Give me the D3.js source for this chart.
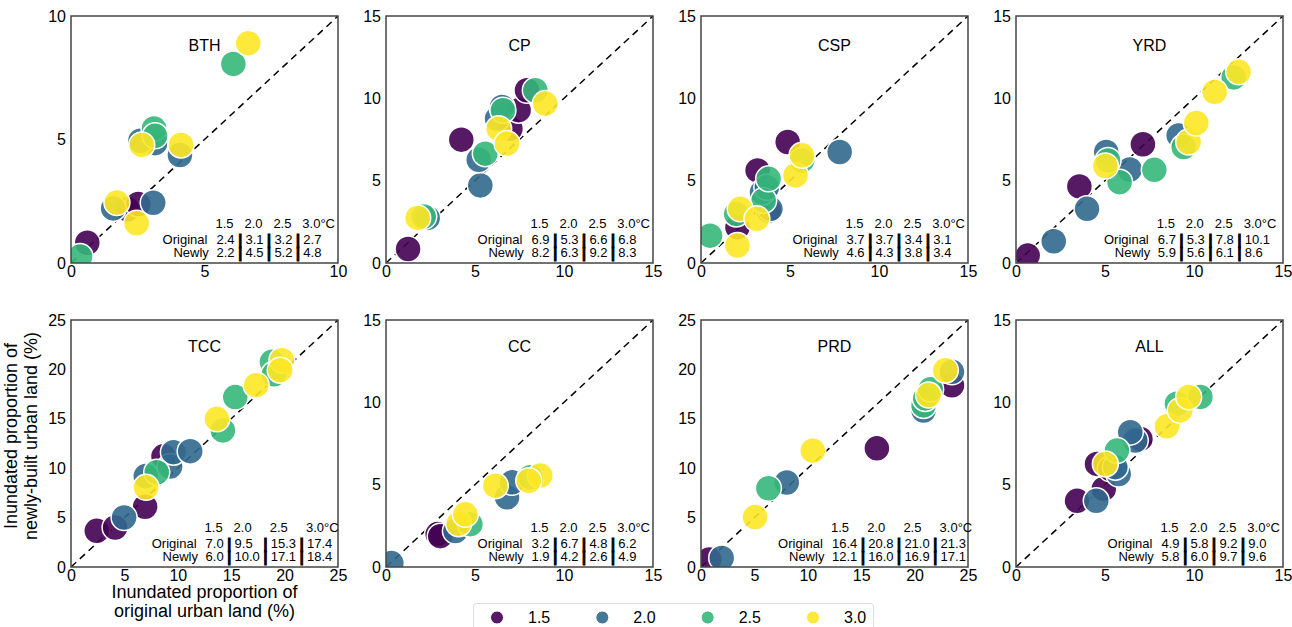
<!DOCTYPE html>
<html>
<head>
<meta charset="utf-8">
<script src="https://cdn.jsdelivr.net/npm/d3@7"></script>
<style>
  html, body { margin: 0; padding: 0; background: #fff; }
  svg { display: block; font-family: "Liberation Sans", Arial, sans-serif; }
  .pre { white-space: pre; }
</style>
</head>
<body>
<svg id="chart" width="1292" height="627"></svg>
<script>
// ---------------- DATA ----------------
const regions = ["BTH", "CP", "CSP", "YRD", "TCC", "CC", "PRD", "ALL"];
const axisMax = [10, 15, 15, 15, 25, 15, 25, 15];
const levels = ["1.5", "2.0", "2.5", "3.0"];
const levelColors = ["#440154", "#31688e", "#35b779", "#fde725"];

// mean values shown in each panel's table (per warming level)
const originalMeans = [
  [2.4, 3.1, 3.2, 2.7], [6.9, 5.3, 6.6, 6.8], [3.7, 3.7, 3.4, 3.1], [6.7, 5.3, 7.8, 10.1],
  [7.0, 9.5, 15.3, 17.4], [3.2, 6.7, 4.8, 6.2], [16.4, 20.8, 21.0, 21.3], [4.9, 5.8, 9.2, 9.0]
];
const newlyMeans = [
  [2.2, 4.5, 5.2, 4.8], [8.2, 6.3, 9.2, 8.3], [4.6, 4.3, 3.8, 3.4], [5.9, 5.6, 6.1, 8.6],
  [6.0, 10.0, 17.1, 18.4], [1.9, 4.2, 2.6, 4.9], [12.1, 16.0, 16.9, 17.1], [5.8, 6.0, 9.7, 9.6]
];

// points [original, newly] per level (1.5, 2.0, 2.5, 3.0)
const ptsBTH = [
  [[0.61, 0.82], [2.12, 2.17], [2.52, 2.39]],
  [[1.58, 2.21], [3.08, 2.44], [3.15, 4.85], [2.6, 4.95], [4.08, 4.37]],
  [[0.34, 0.26], [3.11, 5.45], [3.15, 5.15], [6.08, 8.06]],
  [[1.72, 2.45], [2.46, 1.61], [2.65, 4.78], [4.12, 4.78], [6.64, 8.9]]
];
const ptsCP = [
  [[1.24, 0.85], [4.23, 7.49], [6.99, 8.16], [7.45, 9.28], [7.92, 10.49]],
  [[2.34, 2.74], [5.3, 4.71], [5.21, 6.27], [6.24, 8.77], [6.52, 9.48]],
  [[2.12, 2.82], [5.58, 6.64], [6.57, 9.28], [8.39, 10.49]],
  [[1.78, 2.74], [6.33, 8.16], [6.8, 7.25], [8.95, 9.68]]
];
const ptsCSP = [
  [[2.05, 2.17], [3.8, 3.19], [3.18, 5.62], [4.87, 7.35]],
  [[3.9, 3.29], [3.43, 4.3], [3.7, 4.6], [7.79, 6.74]],
  [[0.51, 1.66], [1.98, 2.98], [3.52, 3.8], [3.8, 5.11], [5.68, 6.23]],
  [[2.05, 1.06], [2.2, 3.29], [3.14, 2.68], [5.31, 5.32], [5.68, 6.54]]
];
const ptsYRD = [
  [[0.66, 0.45], [3.56, 4.65], [7.13, 7.21]],
  [[2.12, 1.32], [3.99, 3.29], [5.07, 6.74], [6.39, 5.68], [9.14, 7.75]],
  [[5.82, 4.91], [5.17, 6.23], [7.77, 5.66], [9.42, 7.04], [12.23, 11.27]],
  [[5.02, 5.89], [9.7, 7.35], [10.13, 8.5], [11.16, 10.39], [12.51, 11.61]]
];
const ptsTCC = [
  [[2.41, 3.66], [4.13, 4.0], [6.94, 6.1], [8.66, 11.2]],
  [[4.97, 5.01], [7.0, 9.2], [9.28, 10.16], [9.59, 11.62], [11.16, 11.72]],
  [[8.03, 9.59], [14.22, 13.82], [15.38, 17.2], [18.81, 20.77], [19.0, 19.5]],
  [[7.03, 8.06], [13.66, 15.0], [17.34, 18.4], [19.75, 20.93], [19.59, 19.92]]
];
const ptsCC = [
  [[2.9, 2.0], [3.05, 1.87]],
  [[0.3, 0.24], [3.9, 2.18], [6.8, 4.23], [7.08, 5.14]],
  [[4.74, 2.6], [8.11, 5.45]],
  [[4.08, 2.63], [4.46, 3.2], [6.14, 4.94], [8.67, 5.55], [8.02, 5.24]]
];
const ptsPRD = [
  [[0.78, 0.75], [16.47, 12.01], [23.5, 18.39]],
  [[1.94, 0.92], [8.03, 8.55], [20.84, 15.84], [23.5, 19.75]],
  [[6.31, 7.97], [20.84, 16.35], [21.0, 17.06], [21.5, 18.0]],
  [[5.06, 5.05], [10.47, 11.77], [21.31, 17.4], [22.88, 19.92]]
];
const ptsALL = [
  [[3.43, 4.02], [4.93, 4.74], [4.55, 6.26], [5.3, 5.96], [6.99, 7.78]],
  [[4.51, 4.02], [5.77, 5.65], [5.58, 6.06], [6.7, 7.68], [6.42, 8.19]],
  [[5.67, 7.07], [9.04, 9.92], [10.36, 10.33]],
  [[5.02, 6.26], [8.48, 8.54], [9.23, 9.51], [9.7, 10.33]]
];
const panelPoints = [ptsBTH, ptsCP, ptsCSP, ptsYRD, ptsTCC, ptsCC, ptsPRD, ptsALL];

// ---------------- LAYOUT ----------------
const svg = d3.select("#chart");
const FONT = '"Liberation Sans", Arial, sans-serif';
const panelLeft = [71, 386, 701, 1016];
const panelTop = [16, 320];
const PW = 267, PH = 247;

const measurer = svg.append("text").attr("class", "pre").attr("x", -1000).attr("y", -1000);
function tw(str, size, weight) {
  measurer.attr("font-size", size).attr("font-weight", weight || "normal").text(str);
  return measurer.node().getComputedTextLength();
}

regions.forEach((name, i) => {
  const col = i % 4, row = Math.floor(i / 4);
  const g = svg.append("g").attr("transform", `translate(${panelLeft[col]},${panelTop[row]})`);
  const m = axisMax[i];
  const x = d3.scaleLinear().domain([0, m]).range([0, PW]);
  const y = d3.scaleLinear().domain([0, m]).range([PH, 0]);
  const ticks = d3.range(0, m + 0.001, 5);

  const clipId = "clip" + i;
  g.append("clipPath").attr("id", clipId).append("rect").attr("width", PW).attr("height", PH);

  // axes (tick labels only)
  const xAxis = g.append("g").attr("transform", `translate(0,${PH})`)
    .call(d3.axisBottom(x).tickValues(ticks).tickSize(0).tickPadding(3).tickFormat(d3.format("d")));
  const yAxis = g.append("g")
    .call(d3.axisLeft(y).tickValues(ticks).tickSize(0).tickPadding(5).tickFormat(d3.format("d")));
  [xAxis, yAxis].forEach(a => {
    a.select(".domain").remove();
    a.selectAll("text").attr("font-size", 16).attr("font-family", FONT).attr("fill", "#000");
  });

  const plot = g.append("g").attr("clip-path", `url(#${clipId})`);
  // 1:1 line
  plot.append("line")
    .attr("x1", x(0)).attr("y1", y(0)).attr("x2", x(m)).attr("y2", y(m))
    .attr("stroke", "#000").attr("stroke-width", 1.5).attr("stroke-dasharray", "7,5");

  // points
  panelPoints[i].forEach((pts, li) => {
    plot.selectAll(null).data(pts).enter().append("circle")
      .attr("cx", d => x(d[0])).attr("cy", d => y(d[1])).attr("r", 13)
      .attr("fill", levelColors[li]).attr("fill-opacity", 0.9)
      .attr("stroke", "#fff").attr("stroke-width", 1.5);
  });

  // frame
  g.append("rect").attr("width", PW).attr("height", PH)
    .attr("fill", "none").attr("stroke", "#444").attr("stroke-width", 1.5);

  // title
  g.append("text").attr("x", PW / 2).attr("y", row === 0 ? 35 : 32)
    .attr("text-anchor", "middle").attr("font-size", 16).attr("fill", "#000").text(name);

  // table
  const fs = 13;
  const orig = originalMeans[i].map(v => v.toFixed(1));
  const newl = newlyMeans[i].map(v => v.toFixed(1));
  const wl = tw("Original", fs), wsp = tw(" ", fs), wbar = tw("|", fs, "bold");
  const gapLabel = 2.5 * wsp;
  let cur = wl + gapLabel;
  const valX = [], barX = [];
  orig.forEach((v, k) => {
    valX.push(cur);
    cur += Math.max(tw(v, fs), tw(newl[k], fs));
    if (k < 3) { barX.push(cur + wsp); cur += wsp + wbar + wsp; }
  });
  const start = 171 - cur / 2;
  const rowsY = [PH - 19.5, PH - 6];
  const tg = g.append("g").attr("font-size", fs).attr("fill", "#000");
  tg.append("text").attr("x", start + wl).attr("y", rowsY[0]).attr("text-anchor", "end").text("Original");
  tg.append("text").attr("x", start + wl + 1.5).attr("y", rowsY[1]).attr("text-anchor", "end").text("Newly");
  [orig, newl].forEach((vals, r) => {
    vals.forEach((v, k) => {
      tg.append("text").attr("x", start + valX[k]).attr("y", rowsY[r]).text(v);
      if (k < 3) tg.append("text").attr("x", start + barX[k]).attr("y", rowsY[r] + 1)
        .attr("font-weight", "bold").attr("stroke", "#000").attr("stroke-width", 0.9)
        .attr("font-size", 14).text("|");
    });
  });
  levels.forEach((lv, k) => {
    tg.append("text").attr("x", start + valX[k] - 1).attr("y", PH - 35)
      .text(k === 3 ? lv + "°C" : lv);
  });
});

// axis labels
const yl = svg.append("text").attr("font-size", 18).attr("text-anchor", "middle")
  .attr("transform", "translate(0,436) rotate(-90)");
yl.append("tspan").attr("x", 0).attr("y", 17).text("Inundated proportion of");
yl.append("tspan").attr("x", 0).attr("y", 37).text("newly-built urban land (%)");
const xl = svg.append("text").attr("font-size", 18).attr("text-anchor", "middle");
xl.append("tspan").attr("x", 71 + PW / 2).attr("y", 598).text("Inundated proportion of");
xl.append("tspan").attr("x", 71 + PW / 2).attr("y", 617).text("original urban land (%)");

// legend
const lg = svg.append("g");
lg.append("rect").attr("x", 473.5).attr("y", 603.5).attr("width", 400).attr("height", 34)
  .attr("rx", 3).attr("fill", "#fff").attr("stroke", "#ddd").attr("stroke-width", 1);
const legX = d3.scalePoint().domain(levels).range([497, 813]);
levels.forEach((lv, k) => {
  lg.append("circle").attr("cx", legX(lv)).attr("cy", 617.5).attr("r", 6.5)
    .attr("fill", levelColors[k]).attr("fill-opacity", 0.9).attr("stroke", "#fff").attr("stroke-width", 1);
  lg.append("text").attr("x", legX(lv) + 31).attr("y", 623).attr("font-size", 16).text(lv);
});
measurer.remove();
</script>
</body>
</html>
